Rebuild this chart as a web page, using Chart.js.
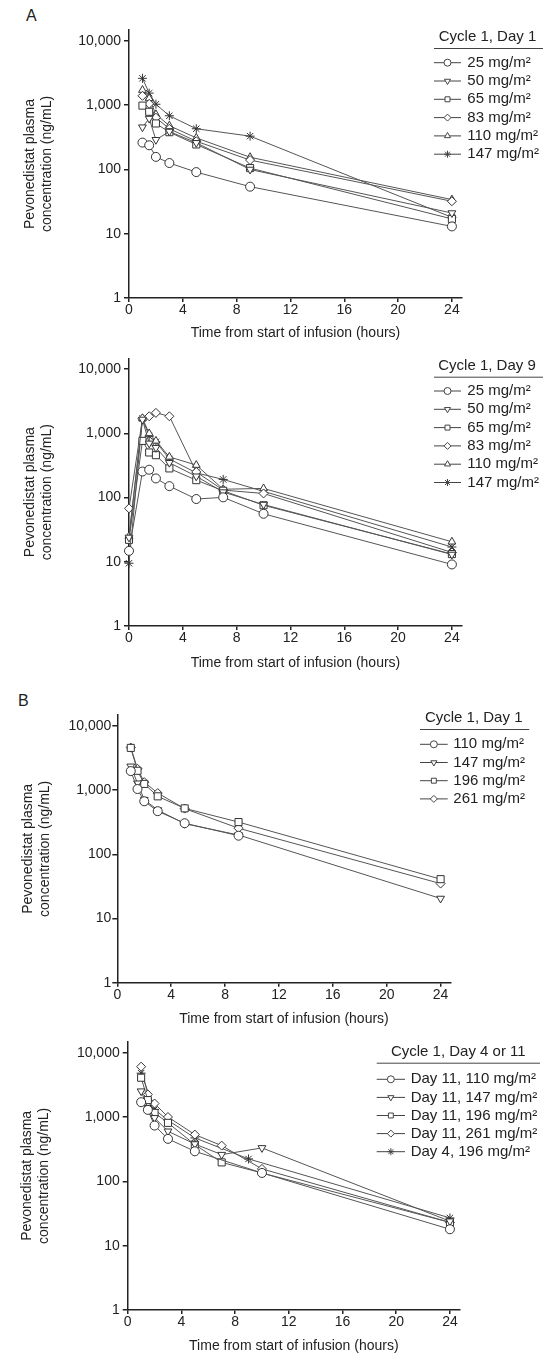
<!DOCTYPE html>
<html>
<head>
<meta charset="utf-8">
<script src="https://cdn.jsdelivr.net/npm/chart.js@4.4.1/dist/chart.umd.min.js"></script>
<style>
    body { margin: 0; background: #fff; }
    #wrap { position: relative; width: 543px; height: 1355px; }
    canvas { position: absolute; left: 0; }
    .tag { position: absolute; font: 16px "Liberation Sans", Arial, sans-serif; color: #222; }
</style>
</head>
<body>
<div id="wrap">
    <div class="tag" style="left:26px; top:7px;">A</div>
    <canvas id="c1" width="543" height="342" style="top:0px"></canvas>
    <canvas id="c2" width="543" height="330" style="top:342px"></canvas>
    <div class="tag" style="left:18px; top:692px;">B</div>
    <canvas id="c3" width="543" height="356" style="top:672px"></canvas>
    <canvas id="c4" width="543" height="327" style="top:1028px"></canvas>
</div>
<script>
// Panel A, cycle 1 day 1
var timesA1 = [1, 1.5, 2, 3, 5, 9, 24];
var a1_25 = [262, 238, 157, 126, 91, 54, 13];
var a1_50 = [455, 620, 290, 390, 260, 100, 21];
var a1_65 = [985, 790, 520, 380, 245, 105, 17];
var a1_83 = [1400, 1050, 640, 430, 275, 140, 32];
var a1_110 = [1720, 1280, 720, 480, 310, 155, 34];
var a1_147 = [2620, 1540, 1035, 685, 430, 330, 18];

// Panel A, cycle 1 day 9
var timesA9 = [0, 1, 1.5, 2, 3, 5, 7, 10, 24];
var timesA9_147 = [0, 1, 1.5, 2, 3, 5, 7, 24];
var a9_25 = [14.8, 255, 272, 199, 151, 95, 101, 56, 9.1];
var a9_50 = [24, 1650, 700, 600, 350, 215, 122, 78, 13];
var a9_65 = [22, 765, 505, 458, 285, 187, 128, 76, 13.2];
var a9_83 = [68, 1700, 1850, 2090, 1850, 251, 131, 116, 14];
var a9_110 = [25, 1720, 1000, 765, 431, 321, 135, 139, 20.5];
var a9_147 = [9.5, 1710, 900, 740, 400, 243, 192, 17];

// Panel B, cycle 1 day 1
var timesB1 = [1, 1.5, 2, 3, 5, 9, 24];
var b1_110 = [1980, 1040, 670, 470, 305, 195];
var b1_147 = [2350, 1280, 710, 490, 300, 200, 20.5];
var b1_196 = [4550, 2000, 1250, 800, 520, 318, 41];
var b1_261 = [4600, 2150, 1330, 900, 515, 255, 35];

// Panel B, cycle 1 day 4 or 11
var timesB11_110 = [1, 1.5, 2, 3, 5, 10, 24];
var timesB11_147 = [1, 1.5, 2, 3, 5, 7, 10, 24];
var timesB11_196 = [1, 1.5, 2, 3, 5, 7, 24];
var timesB11_261 = [1, 1.5, 2, 3, 5, 7, 10, 24];
var timesB4_196 = [1, 2, 3, 5, 9, 24];
var b11_110 = [1700, 1290, 736, 457, 293, 135, 18];
var b11_147 = [2520, 1390, 970, 600, 380, 260, 331, 24];
var b11_196 = [4080, 1830, 1160, 811, 372, 197, 23];
var b11_261 = [6050, 2240, 1620, 1000, 533, 359, 156, 23];
var b4_196 = [4800, 1310, 890, 473, 223, 27];

var xTicks = [0, 4, 8, 12, 16, 20, 24];
var yTicks = [1, 10, 100, 1000, 10000];

var FONT = '"Liberation Sans", Arial, sans-serif';
var INK = '#222';

function pairs(times, values) {
    var out = [];
    for (var i = 0; i < values.length; i++) {
        out.push({ x: times[i], y: values[i] });
    }
    return out;
}

function series(label, times, values, style, rot) {
    return {
        label: label,
        data: pairs(times, values),
        pointStyle: style,
        pointRotation: rot || 0,
        pointRadius: style == 'rect' ? 5 : 4.5,
        pointBorderWidth: 1,
        pointBorderColor: '#333',
        pointBackgroundColor: '#fff',
        borderColor: '#555',
        borderWidth: 1,
        fill: false,
        tension: 0,
        clip: false
    };
}

// legend with underlined title, drawn in the top right corner
var legendBox = {
    id: 'legendBox',
    afterDraw: function (chart, args, o) {
        var ctx = chart.ctx;
        ctx.save();
        ctx.font = '15px ' + FONT;
        ctx.fillStyle = INK;
        ctx.textAlign = 'center';
        ctx.textBaseline = 'middle';
        ctx.fillText(o.title, o.titleX, o.titleY);
        ctx.strokeStyle = '#444';
        ctx.lineWidth = 1;
        ctx.beginPath();
        ctx.moveTo(o.lineX1, o.lineY + 0.5);
        ctx.lineTo(o.lineX2, o.lineY + 0.5);
        ctx.stroke();
        chart.data.datasets.forEach(function (ds, i) {
            var y = o.rowY + i * o.rowGap;
            ctx.strokeStyle = '#444';
            ctx.beginPath();
            ctx.moveTo(o.sampleX1, y);
            ctx.lineTo(o.sampleX2, y);
            ctx.stroke();
            ctx.fillStyle = '#fff';
            Chart.helpers.drawPoint(ctx, {
                pointStyle: ds.pointStyle,
                rotation: ds.pointRotation,
                radius: 3.5,
                borderWidth: 1
            }, (o.sampleX1 + o.sampleX2) / 2, y);
            ctx.fillStyle = INK;
            ctx.textAlign = 'left';
            ctx.fillText(ds.label, o.textX, y);
        });
        ctx.restore();
    }
};

function makeChart(id, datasets, lay, leg) {
    var ctx = document.getElementById(id).getContext('2d');
    return new Chart(ctx, {
        type: 'line',
        data: { datasets: datasets },
        plugins: [legendBox],
        options: {
            responsive: false,
            animation: false,
            devicePixelRatio: 1,
            layout: { padding: lay.padding },
            plugins: {
                legend: { display: false },
                tooltip: { enabled: false },
                legendBox: leg
            },
            scales: {
                x: {
                    type: 'linear',
                    min: 0,
                    max: 24.75,
                    afterBuildTicks: function (scale) {
                        scale.ticks = xTicks.map(function (v) { return { value: v }; });
                    },
                    afterFit: function (scale) { scale.height = lay.xHeight; },
                    grid: { drawOnChartArea: false, drawTicks: true, tickLength: 4, color: INK, lineWidth: 1.5 },
                    border: { color: INK, width: 1.5 },
                    ticks: { padding: 0, color: INK, font: { family: FONT, size: 14 }, maxRotation: 0 },
                    title: {
                        display: true,
                        text: 'Time from start of infusion (hours)',
                        color: INK,
                        font: { family: FONT, size: 14 },
                        padding: 0
                    }
                },
                y: {
                    type: 'logarithmic',
                    min: 1,
                    max: 14800,
                    afterBuildTicks: function (scale) {
                        scale.ticks = yTicks.map(function (v) { return { value: v }; });
                    },
                    afterFit: function (scale) { scale.width = lay.yWidth; },
                    grid: { drawOnChartArea: false, drawTicks: true, tickLength: 5, color: INK, lineWidth: 1.5 },
                    border: { color: INK, width: 1.5 },
                    ticks: {
                        padding: lay.yPad,
                        color: INK,
                        font: { family: FONT, size: 14 },
                        callback: function (v) { return Number(v).toLocaleString('en-US'); }
                    },
                    title: {
                        display: true,
                        text: ['Pevonedistat plasma', 'concentration (ng/mL)'],
                        color: INK,
                        font: { family: FONT, size: 14 },
                        padding: 0
                    }
                }
            }
        }
    });
}

var myChart1 = makeChart('c1', [
    series('25 mg/m²', timesA1, a1_25, 'circle'),
    series('50 mg/m²', timesA1, a1_50, 'triangle', 180),
    series('65 mg/m²', timesA1, a1_65, 'rect'),
    series('83 mg/m²', timesA1, a1_83, 'rectRot'),
    series('110 mg/m²', timesA1, a1_110, 'triangle'),
    series('147 mg/m²', timesA1, a1_147, 'star')
], { padding: { top: 30, left: 21.6, right: 81, bottom: 0 }, yWidth: 107.4, xHeight: 44, yPad: 3 },
{ title: 'Cycle 1, Day 1', titleX: 487.5, titleY: 37, lineY: 48, lineX1: 434, lineX2: 543,
  rowY: 62.7, rowGap: 18.3, sampleX1: 434, sampleX2: 461, textX: 467.3 });

var myChart2 = makeChart('c2', [
    series('25 mg/m²', timesA9, a9_25, 'circle'),
    series('50 mg/m²', timesA9, a9_50, 'triangle', 180),
    series('65 mg/m²', timesA9, a9_65, 'rect'),
    series('83 mg/m²', timesA9, a9_83, 'rectRot'),
    series('110 mg/m²', timesA9, a9_110, 'triangle'),
    series('147 mg/m²', timesA9_147, a9_147, 'star')
], { padding: { top: 16.3, left: 21.6, right: 81, bottom: 0 }, yWidth: 107.4, xHeight: 46, yPad: 3 },
{ title: 'Cycle 1, Day 9', titleX: 487, titleY: 24, lineY: 34.7, lineX1: 434, lineX2: 543,
  rowY: 49, rowGap: 18.3, sampleX1: 434, sampleX2: 461, textX: 467.3 });

var myChart3 = makeChart('c3', [
    series('110 mg/m²', timesB1, b1_110, 'circle'),
    series('147 mg/m²', timesB1, b1_147, 'triangle', 180),
    series('196 mg/m²', timesB1, b1_196, 'rect'),
    series('261 mg/m²', timesB1, b1_261, 'rectRot')
], { padding: { top: 43, left: 20, right: 92.3, bottom: 0 }, yWidth: 97.3, xHeight: 45.3, yPad: 1 },
{ title: 'Cycle 1, Day 1', titleX: 473.7, titleY: 46.3, lineY: 57, lineX1: 420, lineX2: 529.3,
  rowY: 72.3, rowGap: 18.2, sampleX1: 420, sampleX2: 447.7, textX: 453.3 });

var myChart4 = makeChart('c4', [
    series('Day 11, 110 mg/m²', timesB11_110, b11_110, 'circle'),
    series('Day 11, 147 mg/m²', timesB11_147, b11_147, 'triangle', 180),
    series('Day 11, 196 mg/m²', timesB11_196, b11_196, 'rect'),
    series('Day 11, 261 mg/m²', timesB11_261, b11_261, 'rectRot'),
    series('Day 4, 196 mg/m²', timesB4_196, b4_196, 'star')
], { padding: { top: 13.7, left: 18.6, right: 83, bottom: 0 }, yWidth: 109.1, xHeight: 45, yPad: 3 },
{ title: 'Cycle 1, Day 4 or 11', titleX: 458.3, titleY: 23.7, lineY: 34.7, lineX1: 376.7, lineX2: 540,
  rowY: 51.3, rowGap: 18.1, sampleX1: 376.7, sampleX2: 405, textX: 410.7 });
</script>
</body>
</html>
